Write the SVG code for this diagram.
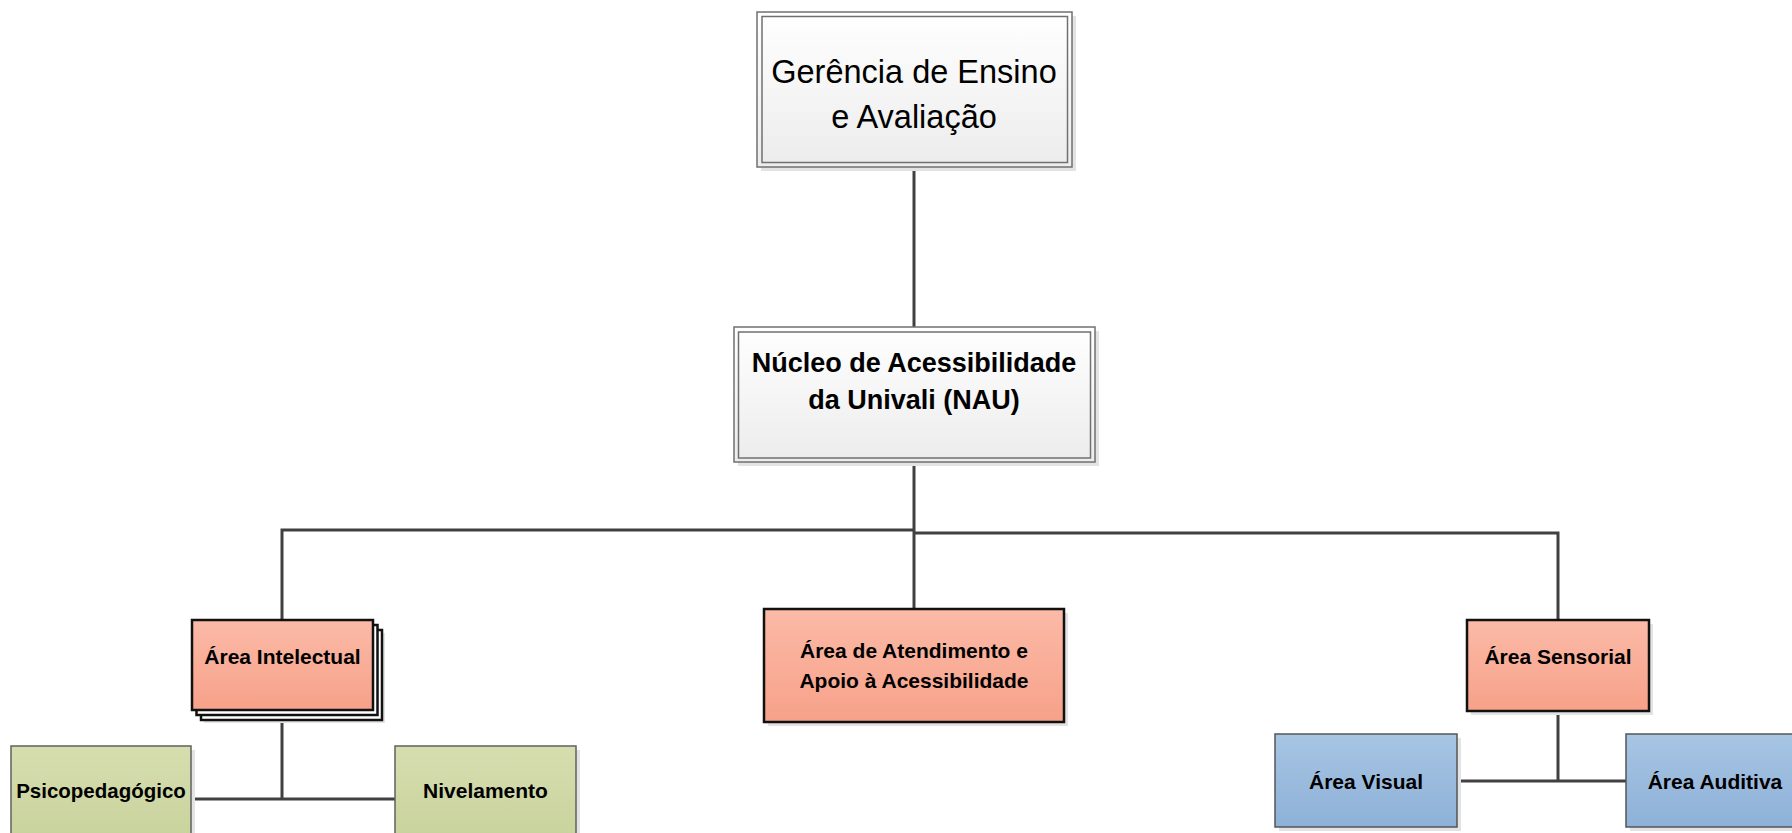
<svg xmlns="http://www.w3.org/2000/svg" width="1792" height="833" viewBox="0 0 1792 833">
<defs>
<linearGradient id="gGray" x1="0" y1="0" x2="0" y2="1"><stop offset="0" stop-color="#ffffff"/><stop offset="1" stop-color="#ececec"/></linearGradient>
<linearGradient id="gRed" x1="0" y1="0" x2="0" y2="1"><stop offset="0" stop-color="#fbbaa7"/><stop offset="1" stop-color="#f7a189"/></linearGradient>
<linearGradient id="gGreen" x1="0" y1="0" x2="0" y2="1"><stop offset="0" stop-color="#d6deaf"/><stop offset="1" stop-color="#c8d29b"/></linearGradient>
<linearGradient id="gBlue" x1="0" y1="0" x2="0" y2="1"><stop offset="0" stop-color="#a8c5e3"/><stop offset="1" stop-color="#8db1d8"/></linearGradient>
</defs>
<style>
.shadow{fill:#e3e3e3}
.outer{fill:url(#gGray);stroke:#707070;stroke-width:1.5}
.inner{fill:none;stroke:#707070;stroke-width:1.5}
.red{fill:url(#gRed);stroke:#111;stroke-width:2.5}
.stack{fill:#ffffff;stroke:#111;stroke-width:2.5}
.green{fill:url(#gGreen);stroke:#606060;stroke-width:1.5}
.blue{fill:url(#gBlue);stroke:#555;stroke-width:1.5}
.conn{stroke:#404040;stroke-width:3;fill:none}
text{font-family:"Liberation Sans",Arial,sans-serif;fill:#000;text-anchor:middle}
.big{font-size:32.5px}
.nau{font-size:27px;font-weight:bold}
.sm{font-size:21px;font-weight:bold}
.sm2{font-size:20.5px;font-weight:bold}
</style>
<rect width="1792" height="833" fill="#ffffff"/>
<g id="connectors">
<line class="conn" x1="914" y1="167" x2="914" y2="327"/>
<line class="conn" x1="914" y1="462" x2="914" y2="609"/>
<polyline class="conn" points="282,620 282,530 914,530"/>
<polyline class="conn" points="914,533 1558,533 1558,620"/>
<line class="conn" x1="282" y1="710" x2="282" y2="799"/>
<line class="conn" x1="191" y1="799" x2="395" y2="799"/>
<line class="conn" x1="1558" y1="711" x2="1558" y2="781"/>
<line class="conn" x1="1457" y1="781" x2="1626" y2="781"/>
</g>
<g id="gerencia">
<rect class="shadow" x="761" y="16" width="315" height="155"/>
<rect class="outer" x="757" y="12" width="315" height="155"/>
<rect class="inner" x="762" y="16.5" width="305.5" height="146"/>
<text class="big" x="914" y="83">Gerência de Ensino</text>
<text class="big" x="914" y="128">e Avaliação</text>
</g>
<g id="nau">
<rect class="shadow" x="738" y="331" width="361" height="135"/>
<rect class="outer" x="734" y="327" width="361" height="135"/>
<rect class="inner" x="738.5" y="332" width="352" height="126"/>
<text class="nau" x="914" y="372">Núcleo de Acessibilidade</text>
<text class="nau" x="914" y="409">da Univali (NAU)</text>
</g>
<g id="area-intelectual">
<rect class="shadow" x="204" y="633" width="181" height="90"/>
<rect class="stack" x="201" y="630" width="181" height="90"/>
<rect class="stack" x="196.5" y="625" width="181" height="90"/>
<rect class="red" x="192" y="620" width="181" height="90"/>
<text class="sm" x="282.5" y="664">Área Intelectual</text>
</g>
<g id="area-atendimento">
<rect class="shadow" x="768" y="613" width="300" height="113"/>
<rect class="red" x="764" y="609" width="300" height="113"/>
<text class="sm" x="914" y="658">Área de Atendimento e</text>
<text class="sm" x="914" y="688">Apoio à Acessibilidade</text>
</g>
<g id="area-sensorial">
<rect class="shadow" x="1471" y="624" width="182" height="91"/>
<rect class="red" x="1467" y="620" width="182" height="91"/>
<text class="sm" x="1558" y="664">Área Sensorial</text>
</g>
<g id="psicopedagogico">
<rect class="shadow" x="15" y="750" width="180" height="100"/>
<rect class="green" x="11" y="746" width="180" height="100"/>
<text class="sm2" x="101" y="798">Psicopedagógico</text>
</g>
<g id="nivelamento">
<rect class="shadow" x="399" y="750" width="181" height="100"/>
<rect class="green" x="395" y="746" width="181" height="100"/>
<text class="sm" x="485.5" y="798">Nivelamento</text>
</g>
<g id="area-visual">
<rect class="shadow" x="1279" y="738" width="182" height="93"/>
<rect class="blue" x="1275" y="734" width="182" height="93"/>
<text class="sm" x="1366" y="789">Área Visual</text>
</g>
<g id="area-auditiva">
<rect class="shadow" x="1630" y="738" width="182" height="93"/>
<rect class="blue" x="1626" y="734" width="182" height="93"/>
<text class="sm" x="1715" y="789">Área Auditiva</text>
</g>
</svg>
